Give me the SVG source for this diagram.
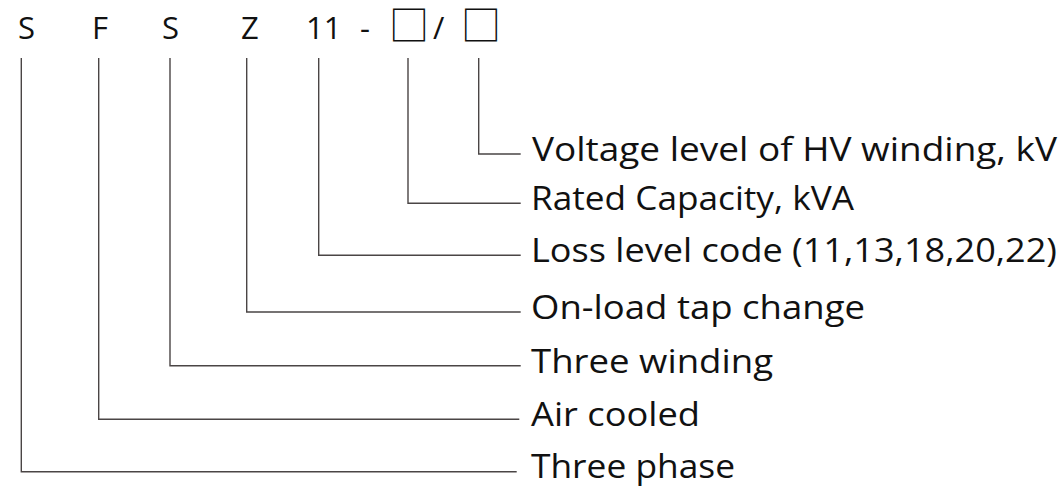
<svg xmlns="http://www.w3.org/2000/svg" width="1064" height="491" viewBox="0 0 1064 491">
<style>
.code{font-family:"Open Sans","Liberation Sans",sans-serif;font-size:31px;fill:#111}
.box{font-family:"Noto Sans CJK SC",sans-serif;font-size:40px;fill:#111}
.lbl{font-family:"Open Sans","Liberation Sans",sans-serif;font-size:33px;fill:#111}
.conn{fill:none;stroke:#4a4545;stroke-width:1.4}
</style>
<rect width="1064" height="491" fill="#fff"/>
<g id="code">
<text class="code" x="18" y="39">S</text>
<text class="code" x="92" y="39">F</text>
<text class="code" x="162" y="39">S</text>
<text class="code" x="241" y="39">Z</text>
<text class="code" x="306" y="39">11</text>
<text class="code" x="360" y="39">-</text>
<text class="box" x="389" y="40">□</text>
<text class="code" x="433" y="39">/</text>
<text class="box" x="461" y="40">□</text>
</g>
<g id="connectors">
<path class="conn" d="M478.7 58V154H520.7"/>
<path class="conn" d="M408 58V203.3H520.7"/>
<path class="conn" d="M318.7 58V255.3H520.7"/>
<path class="conn" d="M246.7 58V312H520.7"/>
<path class="conn" d="M170 58V365.7H520.7"/>
<path class="conn" d="M98.7 58V419.3H519.3"/>
<path class="conn" d="M21.3 58V471.7H516.7"/>
</g>
<g id="n-voltage"><text class="lbl" x="532" y="161" textLength="525" lengthAdjust="spacingAndGlyphs">Voltage level of HV winding, kV</text></g>
<g id="n-rated"><text class="lbl" x="531" y="210" textLength="323" lengthAdjust="spacingAndGlyphs">Rated Capacity, kVA</text></g>
<g id="n-loss"><text class="lbl" x="531" y="262" textLength="526" lengthAdjust="spacingAndGlyphs">Loss level code (11,13,18,20,22)</text></g>
<g id="n-onload"><text class="lbl" x="531" y="319" textLength="334" lengthAdjust="spacingAndGlyphs">On-load tap change</text></g>
<g id="n-winding"><text class="lbl" x="531" y="373" textLength="242" lengthAdjust="spacingAndGlyphs">Three winding</text></g>
<g id="n-air"><text class="lbl" x="531" y="426" textLength="169" lengthAdjust="spacingAndGlyphs">Air cooled</text></g>
<g id="n-phase"><text class="lbl" x="531" y="478" textLength="204" lengthAdjust="spacingAndGlyphs">Three phase</text></g>
</svg>
